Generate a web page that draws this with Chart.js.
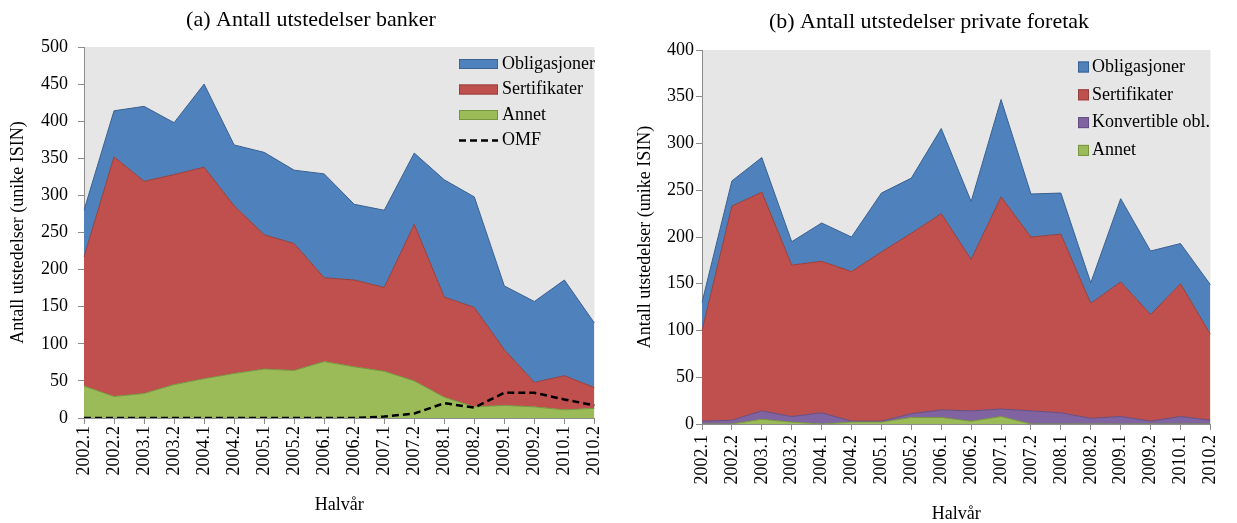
<!DOCTYPE html>
<html>
<head>
<meta charset="utf-8">
<script src="https://cdn.jsdelivr.net/npm/chart.js@4.4.1/dist/chart.umd.min.js"></script>
<style>
  body { margin: 0; background: #fff; }
  #wrap { position: relative; width: 1237px; height: 523px; }
  .panel { position: absolute; top: 0; height: 523px; }
  #left { left: 0; width: 618px; }
  #right { left: 618px; width: 619px; }
</style>
</head>
<body>
<div id="wrap">
  <div class="panel" id="left"><canvas id="chart-a"></canvas></div>
  <div class="panel" id="right"><canvas id="chart-b"></canvas></div>
</div>
<script>
var HALVAR = ["2002.1","2002.2","2003.1","2003.2","2004.1","2004.2","2005.1","2005.2","2006.1",
              "2006.2","2007.1","2007.2","2008.1","2008.2","2009.1","2009.2","2010.1","2010.2"];

// (a) banker
var bankAnnet        = [43, 29, 33, 45, 53, 60, 66, 64, 76, 69, 63, 50, 28, 15, 17, 15, 11, 13];
var bankSertifikater = [174, 323, 286, 283, 285, 226, 181, 171, 113, 117, 113, 211, 135, 134, 75, 33, 46, 28];
var bankObligasjoner = [63, 62, 101, 70, 112, 82, 111, 99, 140, 102, 104, 96, 158, 149, 86, 109, 129, 87];
var bankOMF          = [0, 0, 0, 0, 0, 0, 0, 0, 0, 0, 2, 6, 20, 14, 34, 34, 25, 17];

// (b) private foretak
var privAnnet        = [0, 0, 5, 2, 0, 2, 2, 7, 7, 3, 8, 0, 0, 0, 0, 0, 0, 0];
var privKonvertible  = [3, 4, 9, 6, 12, 1, 1, 4, 8, 11, 8, 14, 12, 6, 8, 3, 8, 4];
var privSertifikater = [97, 229, 234, 162, 162, 160, 181, 193, 210, 162, 227, 186, 191, 123, 144, 114, 142, 92];
var privObligasjoner = [30, 27, 37, 25, 41, 37, 63, 59, 91, 62, 104, 46, 44, 22, 89, 68, 43, 53];

var SERIF = "'Liberation Serif', 'Times New Roman', serif";
var AXIS_GREY = "#8c8c8c";

var BLUE   = { fill: "#4F81BD", line: "#3A6190" };
var RED    = { fill: "#C0504D", line: "#94403D" };
var GREEN  = { fill: "#9BBB59", line: "#789440" };
var PURPLE = { fill: "#8064A2", line: "#634D82" };

function font(size, lh) {
    return { family: SERIF, size: size, lineHeight: lh || 1.2 };
}

function area(label, data, col, first) {
    return {
        label: label,
        data: data,
        backgroundColor: col.fill,
        borderColor: col.line,
        borderWidth: 1,
        pointRadius: 0,
        tension: 0,
        fill: first ? "origin" : "-1",
        stack: "areas"
    };
}

/* grey plot background */
var plotBg = {
    id: "plotBg",
    beforeDraw: function (chart) {
        var a = chart.chartArea, ctx = chart.ctx;
        ctx.save();
        ctx.fillStyle = "#E6E6E6";
        ctx.fillRect(a.left, a.top, a.right - a.left, a.bottom - a.top);
        ctx.restore();
    }
};

/* panel heading */
var panelTitle = {
    id: "panelTitle",
    afterDraw: function (chart, args, opts) {
        var ctx = chart.ctx;
        ctx.save();
        ctx.font = opts.size + "px " + SERIF;
        ctx.fillStyle = "#000";
        ctx.textAlign = "center";
        ctx.textBaseline = "middle";
        ctx.fillText(opts.text, opts.x, opts.y);
        ctx.restore();
    }
};

/* legend drawn inside the plot area */
var insideLegend = {
    id: "insideLegend",
    afterDraw: function (chart, args, opts) {
        var ctx = chart.ctx;
        ctx.save();
        ctx.font = "18px " + SERIF;
        ctx.textBaseline = "middle";
        ctx.textAlign = "left";
        opts.order.forEach(function (di, i) {
            var ds = chart.data.datasets[di];
            var cy = opts.y + i * opts.step;
            if (ds.fill === false) {
                ctx.strokeStyle = ds.borderColor;
                ctx.lineWidth = ds.borderWidth;
                ctx.setLineDash(ds.borderDash);
                ctx.beginPath();
                ctx.moveTo(opts.x, cy);
                ctx.lineTo(opts.x + opts.boxW, cy);
                ctx.stroke();
                ctx.setLineDash([]);
            } else {
                ctx.fillStyle = ds.backgroundColor;
                ctx.fillRect(opts.x, cy - opts.boxH / 2, opts.boxW, opts.boxH);
                ctx.strokeStyle = ds.borderColor;
                ctx.lineWidth = 1;
                ctx.strokeRect(opts.x + 0.5, cy - opts.boxH / 2 + 0.5, opts.boxW - 1, opts.boxH - 1);
            }
            ctx.fillStyle = "#000";
            ctx.fillText(ds.label, opts.x + opts.boxW + opts.gap, cy);
        });
        ctx.restore();
    }
};

function makeScales(yMax, yWidth, xHeight, yTitlePad, xTitlePad, yTickPad, xTickPad, xTitleLH) {
    return {
        x: {
            grid: { drawOnChartArea: false, drawTicks: true, tickLength: 6, color: AXIS_GREY },
            border: { color: AXIS_GREY, width: 1 },
            ticks: { maxRotation: 90, minRotation: 90, autoSkip: false, padding: xTickPad, color: "#000", font: font(18) },
            title: { display: true, text: "Halvår", color: "#000", font: font(18, xTitleLH), padding: { top: 0, bottom: xTitlePad } },
            afterFit: function (s) { s.height = xHeight; }
        },
        y: {
            stacked: true,
            min: 0,
            max: yMax,
            grid: { drawOnChartArea: false, drawTicks: true, tickLength: 6, color: AXIS_GREY },
            border: { color: AXIS_GREY, width: 1 },
            ticks: { stepSize: 50, padding: yTickPad, color: "#000", font: font(18) },
            title: { display: true, text: "Antall utstedelser (unike ISIN)", color: "#000", font: font(18), padding: { top: yTitlePad, bottom: 0 } },
            afterFit: function (s) { s.width = yWidth; }
        }
    };
}

Chart.defaults.animation = false;

var chartA = new Chart(document.getElementById("chart-a"), {
    type: "line",
    data: {
        labels: HALVAR,
        datasets: [
            area("Annet", bankAnnet, GREEN, true),
            area("Sertifikater", bankSertifikater, RED, false),
            area("Obligasjoner", bankObligasjoner, BLUE, false),
            {
                label: "OMF",
                data: bankOMF,
                borderColor: "#000",
                borderWidth: 2.5,
                borderDash: [7, 4],
                pointRadius: 0,
                tension: 0,
                fill: false,
                stack: "omf",
                order: -1
            }
        ]
    },
    options: {
        responsive: true,
        maintainAspectRatio: false,
        layout: { padding: { top: 47, right: 14, left: 0, bottom: 0 } },
        scales: makeScales(500, 84, 105, 7, 7, 10, 2, 1.2),
        plugins: {
            legend: { display: false },
            tooltip: { enabled: false },
            panelTitle: { text: "(a) Antall utstedelser banker", x: 311, y: 20, size: 22 },
            insideLegend: { order: [2, 1, 0, 3], x: 459, y: 64, step: 25.5, boxW: 39, boxH: 10, gap: 4 }
        }
    },
    plugins: [plotBg, panelTitle, insideLegend]
});

var chartB = new Chart(document.getElementById("chart-b"), {
    type: "line",
    data: {
        labels: HALVAR,
        datasets: [
            area("Annet", privAnnet, GREEN, true),
            area("Konvertible obl.", privKonvertible, PURPLE, false),
            area("Sertifikater", privSertifikater, RED, false),
            area("Obligasjoner", privObligasjoner, BLUE, false)
        ]
    },
    options: {
        responsive: true,
        maintainAspectRatio: false,
        layout: { padding: { top: 50, right: 15, left: 0, bottom: 0 } },
        scales: makeScales(400, 84, 99, 16, 0, 2, 5, 1.0),
        plugins: {
            legend: { display: false },
            tooltip: { enabled: false },
            panelTitle: { text: "(b) Antall utstedelser private foretak", x: 311, y: 22, size: 22 },
            insideLegend: { order: [3, 2, 1, 0], x: 460, y: 67, step: 27.8, boxW: 11, boxH: 11, gap: 3 }
        }
    },
    plugins: [plotBg, panelTitle, insideLegend]
});
</script>
</body>
</html>
